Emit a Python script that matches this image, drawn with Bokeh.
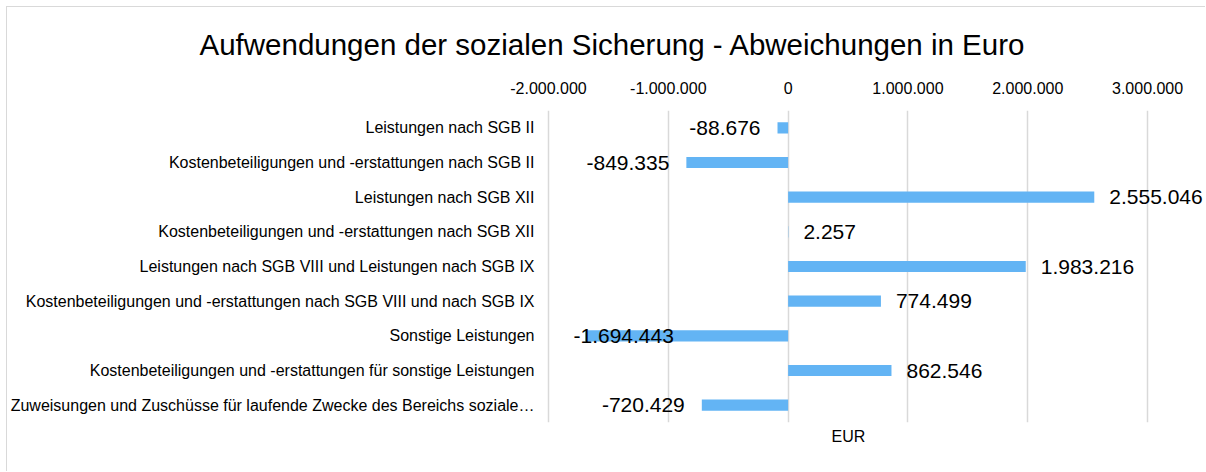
from bokeh.plotting import figure
from bokeh.models import (Range1d, FactorRange, FixedTicker, Title,
                          CustomJSTickFormatter, ColumnDataSource, LabelSet)
from bokeh.core.properties import value
from bokeh.embed import file_html
from bokeh.resources import INLINE

# ---- data ----
title_text = "Aufwendungen der sozialen Sicherung - Abweichungen in Euro"
categories = [
    "Leistungen nach SGB II",
    "Kostenbeteiligungen und -erstattungen nach SGB II",
    "Leistungen nach SGB XII",
    "Kostenbeteiligungen und -erstattungen nach SGB XII",
    "Leistungen nach SGB VIII und Leistungen nach SGB IX",
    "Kostenbeteiligungen und -erstattungen nach SGB VIII und nach SGB IX",
    "Sonstige Leistungen",
    "Kostenbeteiligungen und -erstattungen für sonstige Leistungen",
    "Zuweisungen und Zuschüsse für laufende Zwecke des Bereichs soziale…",
]
values = [-88676, -849335, 2555046, 2257, 1983216, 774499, -1694443, 862546, -720429]
x_ticks = [-2000000, -1000000, 0, 1000000, 2000000, 3000000]
x_axis_title = "EUR"

# ---- layout / style constants ----
FIG_W, FIG_H = 1199, 465
MB_LEFT, MB_RIGHT, MB_TOP, MB_BOTTOM = 534, 0, 102, 50
PX_PER_UNIT = 120 / 1_000_000
AXIS_MIN = x_ticks[0]
X_VIEW_MIN = AXIS_MIN - 6 / PX_PER_UNIT
X_VIEW_MAX = X_VIEW_MIN + (FIG_W - MB_LEFT - MB_RIGHT) / PX_PER_UNIT
FONT = "Liberation Sans"
BAR_COLOR = "#63b4f4"
GRID_COLOR = "#d9d9d9"
VAL_FONT_PX = 21


def de(n):
    return f"{n:,}".replace(",", ".")


def text_em(s):
    w = 0.0
    for ch in s:
        if ch.isdigit():
            w += 0.556
        elif ch == ".":
            w += 0.278
        elif ch == "-":
            w += 0.333
        else:
            w += 0.5
    return w


pos = dict(x=[], y=[], t=[])
neg = dict(x=[], y=[], t=[])
ins = dict(x=[], y=[], t=[])
for c, v in zip(categories, values):
    lab = de(v)
    if v >= 0:
        pos["x"].append(v); pos["y"].append(c); pos["t"].append(lab)
    else:
        w = text_em(lab) * VAL_FONT_PX
        if v - (17 + w) / PX_PER_UNIT < AXIS_MIN:
            ins["x"].append(AXIS_MIN); ins["y"].append(c); ins["t"].append(lab)
        else:
            neg["x"].append(v); neg["y"].append(c); neg["t"].append(lab)

src = ColumnDataSource(dict(cat=categories, val=values))

p = figure(width=FIG_W, height=FIG_H,
           y_range=FactorRange(factors=categories[::-1]),
           x_range=Range1d(X_VIEW_MIN, X_VIEW_MAX),
           x_axis_location="above",
           output_backend="svg", toolbar_location=None,
           min_border_left=MB_LEFT, min_border_right=MB_RIGHT,
           min_border_top=MB_TOP, min_border_bottom=MB_BOTTOM)
p.styles = {"margin-left": "6px", "margin-top": "6px",
            "border-top": "1px solid #d9d9d9", "border-left": "1px solid #d9d9d9"}

p.hbar(y="cat", left=0, right="val", height=0.32, source=src,
       fill_color=BAR_COLOR, line_color=None)

# grid
p.xgrid.ticker = FixedTicker(ticks=x_ticks)
p.xgrid.grid_line_color = GRID_COLOR
p.xgrid.grid_line_width = 1.5
p.ygrid.visible = False
p.outline_line_color = None

# top axis
xa = p.xaxis[0]
xa.ticker = FixedTicker(ticks=x_ticks)
xa.formatter = CustomJSTickFormatter(
    code="return Math.round(tick).toString().replace(/\\B(?=(\\d{3})+(?!\\d))/g, '.');")
xa.axis_line_color = None
xa.major_tick_line_color = None
xa.minor_tick_line_color = None
xa.major_label_standoff = 11
xa.major_label_text_font = FONT
xa.major_label_text_font_size = "16px"
xa.major_label_text_color = "#000000"

# y axis
ya = p.yaxis[0]
ya.axis_line_color = None
ya.major_tick_line_color = None
ya.minor_tick_line_color = None
ya.major_tick_out = 0
ya.major_tick_in = 0
ya.minor_tick_out = 0
ya.minor_tick_in = 0
ya.major_label_standoff = 8
ya.major_label_text_font = FONT
ya.major_label_text_font_size = "16px"
ya.major_label_text_color = "#000000"

# title
p.title.text = title_text
p.title.text_font = FONT
p.title.text_font_size = "29.5px"
p.title.text_font_style = "normal"
p.title.text_color = "#000000"
p.title.align = "left"
p.title.offset = -343
p.title.standoff = 36

# x axis title below, centred on the -2M..3M axis span
p.add_layout(Title(text=x_axis_title, align="left", offset=289,
                   vertical_align="top", standoff=10,
                   text_font=FONT, text_font_size="16px",
                   text_font_style="normal", text_color="#000000"), "below")

common = dict(y="y", text="t", text_font=value(FONT),
              text_font_size=value(f"{VAL_FONT_PX}px"),
              text_color="#000000", text_baseline="middle")
p.add_layout(LabelSet(x="x", source=ColumnDataSource(pos), x_offset=15,
                      text_align="left", **common))
p.add_layout(LabelSet(x="x", source=ColumnDataSource(neg), x_offset=-17,
                      text_align="right", **common))
p.add_layout(LabelSet(x="x", source=ColumnDataSource(ins), x_offset=25,
                      text_align="left", **common))

open("out.html", "w").write(file_html(p, INLINE))
